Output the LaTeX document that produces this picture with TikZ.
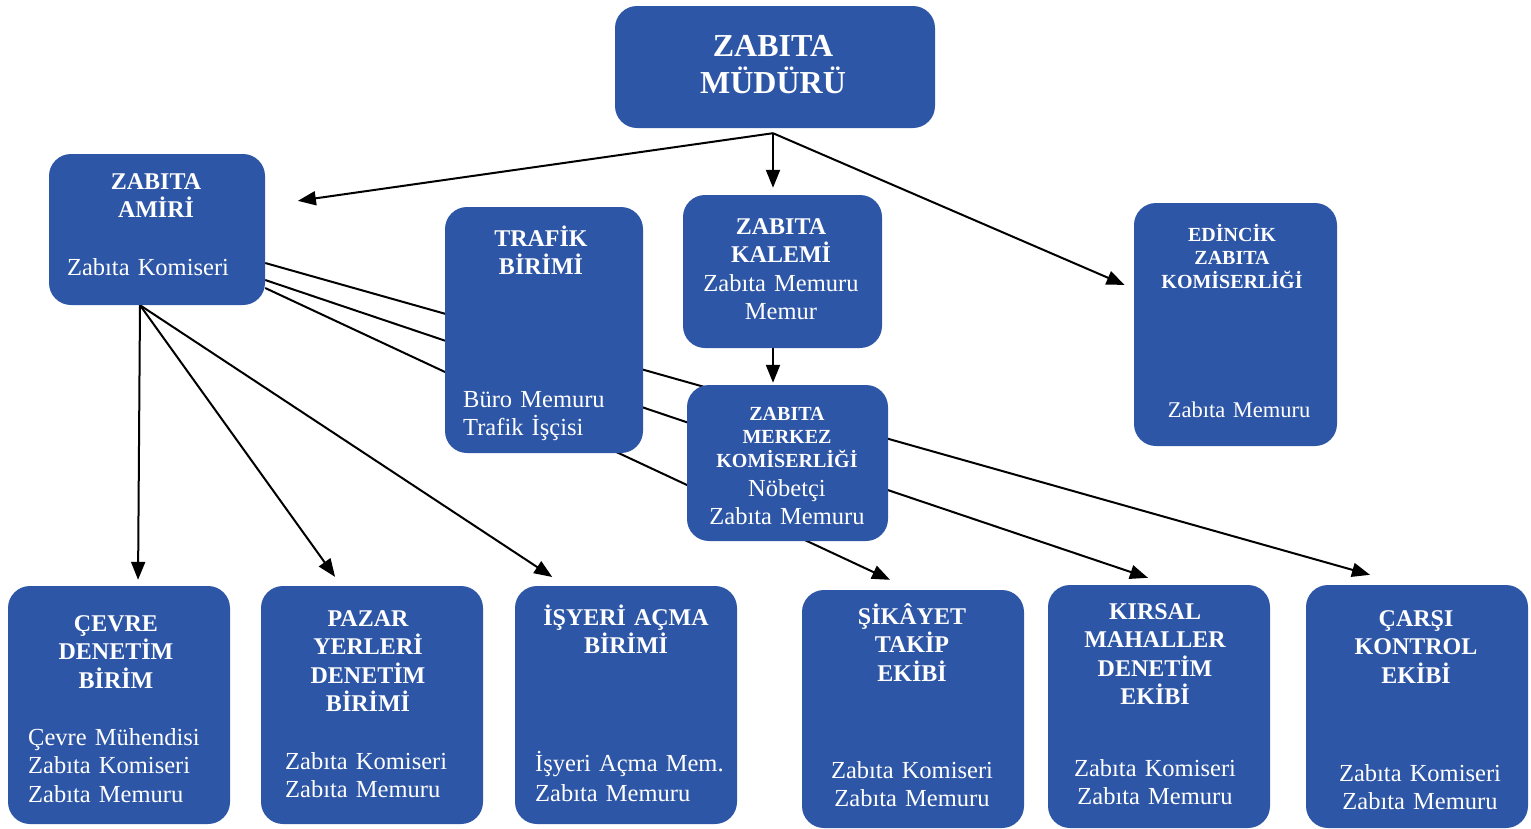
\documentclass[tikz,border=0pt]{standalone}
\usepackage{fontspec}
\setmainfont{Liberation Serif}
\usetikzlibrary{arrows.meta,backgrounds}
\definecolor{BoxBlue}{RGB}{46,86,166}

\tikzset{
  unit/.style={fill=BoxBlue, rounded corners=22pt, inner sep=0pt},
  lbl/.style={text=white, inner sep=0pt, anchor=base, text width=215pt, align=center},
  head/.style={lbl, font=\fontsize{24}{28.5}\selectfont\bfseries},
  smallhead/.style={lbl, font=\fontsize{20}{23.5}\selectfont\bfseries},
  staff/.style={lbl, font=\fontsize{24.5}{28.5}\selectfont},
  leftstaff/.style={staff, anchor=base west, align=left},
  link/.style={line width=2pt, -{Triangle[length=18pt,width=14pt]}}
}

\begin{document}
\begin{tikzpicture}[x=1pt,y=-1pt]
    \useasboundingbox (0,0) rectangle (1531,828);

    % boxes
    \node[unit, minimum width=320pt, minimum height=122pt] (mudur) at (775,67) {};
    \node[unit, minimum width=216pt, minimum height=151pt] (amir) at (157,229.5) {};
    \node[unit, minimum width=198pt, minimum height=246pt] (trafik) at (544,330) {};
    \node[unit, minimum width=199pt, minimum height=153pt] (kalem) at (782.5,271.5) {};
    \node[unit, minimum width=201pt, minimum height=156pt] (merkez) at (787.5,463) {};
    \node[unit, minimum width=203pt, minimum height=243pt] (edincik) at (1235.5,324.5) {};
    \node[unit, minimum width=222pt, minimum height=238pt] (cevre) at (119,705) {};
    \node[unit, minimum width=222pt, minimum height=238pt] (pazar) at (372,705) {};
    \node[unit, minimum width=222pt, minimum height=238pt] (isyeri) at (626,705) {};
    \node[unit, minimum width=222pt, minimum height=238pt] (sikayet) at (913,709) {};
    \node[unit, minimum width=222pt, minimum height=243pt] (kirsal) at (1159,706.5) {};
    \node[unit, minimum width=222pt, minimum height=243pt] (carsi) at (1417,706.5) {};

    % texts
    \node[head, font=\fontsize{32}{37}\selectfont\bfseries] (mudurH) at (773,56) {ZABITA\\MÜDÜRÜ};
    \node[head] (amirH) at (156,189) {ZABITA\\AMİRİ};
    \node[staff] (amirS) at (148,275) {Zabıta Komiseri};
    \node[head] (trafikH) at (541,246) {TRAFİK\\BİRİMİ};
    \node[leftstaff] (trafikS) at (463,407) {Büro Memuru\\Trafik İşçisi};
    \node[head] (kalemH) at (781,234) {ZABITA\\KALEMİ};
    \node[staff] (kalemS) at (781,291) {Zabıta Memuru\\Memur};
    \node[smallhead] (merkezH) at (787,420) {ZABITA\\MERKEZ\\KOMİSERLİĞİ};
    \node[staff] (merkezS) at (787,496) {Nöbetçi\\Zabıta Memuru};
    \node[smallhead] (edincikH) at (1232,241) {EDİNCİK\\ZABITA\\KOMİSERLİĞİ};
    \node[staff, font=\fontsize{22.5}{27}\selectfont] (edincikS) at (1239,417) {Zabıta Memuru};
    \node[head] (cevreH) at (116,631) {ÇEVRE\\DENETİM\\BİRİM};
    \node[leftstaff] (cevreS) at (28,745) {Çevre Mühendisi\\Zabıta Komiseri\\Zabıta Memuru};
    \node[head] (pazarH) at (368,626) {PAZAR\\YERLERİ\\DENETİM\\BİRİMİ};
    \node[leftstaff] (pazarS) at (285,769) {Zabıta Komiseri\\Zabıta Memuru};
    \node[head] (isyeriH) at (626,625) {İŞYERİ AÇMA\\BİRİMİ};
    \node[leftstaff, font=\fontsize{24.5}{30}\selectfont] (isyeriS) at (535,771) {İşyeri Açma Mem.\\Zabıta Memuru};
    \node[head] (sikayetH) at (912,624) {ŞİKÂYET\\TAKİP\\EKİBİ};
    \node[staff] (sikayetS) at (912,778) {Zabıta Komiseri\\Zabıta Memuru};
    \node[head] (kirsalH) at (1155,619) {KIRSAL\\MAHALLER\\DENETİM\\EKİBİ};
    \node[staff] (kirsalS) at (1155,776) {Zabıta Komiseri\\Zabıta Memuru};
    \node[head] (carsiH) at (1416,626) {ÇARŞI\\KONTROL\\EKİBİ};
    \node[staff] (carsiS) at (1420,781) {Zabıta Komiseri\\Zabıta Memuru};

    % fork under the top box
    \coordinate (mudurFork) at ([xshift=-2pt,yshift=-5pt]mudur.south);

    % connectors, behind the boxes
    \begin{pgfonlayer}{background}
    \draw[link, shorten >=33pt] (mudurFork) -- ([yshift=24pt]amir.east);
    \draw[link, shorten >=7pt] (mudurFork) -- (mudurFork |- kalem.north);
    \draw[link, shorten >=10pt] (mudurFork) -- ([yshift=35.6pt]edincik.west);
    \draw[link, shorten >=2pt] ([xshift=-9.5pt]kalem.south) -- ([xshift=-14.5pt]merkez.north);

    \draw[link, shorten >=6pt] ([xshift=-17pt]amir.south) -- ([xshift=19pt]cevre.north);
    \draw[link, shorten >=11pt] ([xshift=-17pt]amir.south) -- ([xshift=-30.5pt]pazar.north);
    \draw[link, shorten >=16pt] ([xshift=-17pt]amir.south) -- ([xshift=-60.4pt]isyeri.north);
    \draw[link, shorten >=23.6pt] ([yshift=-58.5pt]amir.east) -- ([xshift=-1.6pt]sikayet.north);
    \draw[link, shorten >=21.9pt] ([yshift=-50.5pt]amir.east) -- ([xshift=9.7pt]kirsal.north);
    \draw[link, shorten >=36.8pt] ([yshift=-33.5pt]amir.east) -- ([xshift=-11.6pt]carsi.north);
    \end{pgfonlayer}
\end{tikzpicture}
\end{document}
